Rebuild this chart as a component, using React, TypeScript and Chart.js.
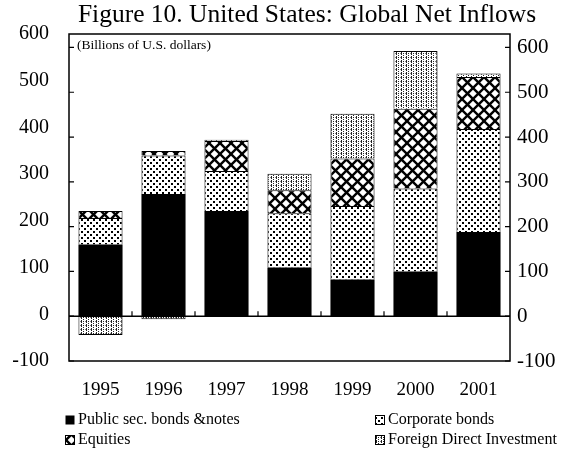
import React, { useEffect, useRef } from "react";
import { Chart, registerables } from "chart.js";

Chart.register(...registerables);

const years = ["1995", "1996", "1997", "1998", "1999", "2000", "2001"];
const publicSec = [160, 273, 235, 109, 82, 100, 188];
const corporate = [59, 86, 89, 121, 164, 185, 230];
const equities = [16, 10, 67, 51, 106, 178, 116];
const fdi = [-42, -7, 3, 37, 100, 129, 8];
const seriesLabels = [
  "Public sec. bonds &notes",
  "Corporate bonds",
  "Equities",
  "Foreign Direct Investment",
];
const titleText = "Figure 10. United States: Global Net Inflows";
const unitText = "(Billions of U.S. dollars)";
const axisMin = -100;
const leftAxisMax = 600;
const dataAxisMax = 630;

const SERIF = "'Liberation Serif', 'DejaVu Serif', serif";

function makePattern(kind: string): CanvasPattern | string {
  const c = document.createElement("canvas");
  const g = c.getContext("2d")!;
  if (kind === "dots") {
    c.width = 6;
    c.height = 6;
    g.fillStyle = "#fff";
    g.fillRect(0, 0, 6, 6);
    g.fillStyle = "#000";
    g.fillRect(0, 0, 2, 2);
    g.fillRect(3, 3, 2, 2);
  } else if (kind === "lattice") {
    c.width = 11;
    c.height = 11;
    g.fillStyle = "#fff";
    g.fillRect(0, 0, 11, 11);
    g.strokeStyle = "#000";
    g.lineWidth = 2.4;
    for (const off of [-11, 0, 11]) {
      g.beginPath();
      g.moveTo(off - 2, -2);
      g.lineTo(off + 13, 13);
      g.stroke();
      g.beginPath();
      g.moveTo(off + 13, -2);
      g.lineTo(off - 2, 13);
      g.stroke();
    }
  } else {
    c.width = 5;
    c.height = 4;
    g.fillStyle = "#fff";
    g.fillRect(0, 0, 5, 4);
    g.fillStyle = "#222";
    g.fillRect(1, 0, 1, 3);
    g.fillRect(3, 1, 1, 1);
    g.fillRect(3, 3, 1, 1);
    g.fillStyle = "#888";
    g.fillRect(0, 1, 1, 1);
  }
  return g.createPattern(c, "repeat")!;
}

const framePlugin = {
  id: "framePlugin",
  afterDatasetsDraw(chart: any) {
    const { ctx, chartArea: a, scales } = chart;
    const y = scales.y;
    const x = scales.x;
    ctx.save();
    ctx.strokeStyle = "#000";
    ctx.lineWidth = 1.5;
    ctx.strokeRect(a.left, a.top, a.right - a.left, a.bottom - a.top);
    const y0 = y.getPixelForValue(0);
    ctx.beginPath();
    ctx.moveTo(a.left, y0);
    ctx.lineTo(a.right, y0);
    ctx.stroke();
    ctx.lineWidth = 1.2;
    y.ticks.forEach((t: any) => {
      const py = y.getPixelForValue(t.value);
      ctx.beginPath();
      ctx.moveTo(a.left, py);
      ctx.lineTo(a.left + 5, py);
      ctx.moveTo(a.right, py);
      ctx.lineTo(a.right - 5, py);
      ctx.stroke();
    });
    for (let i = 1; i < years.length; i++) {
      const px = (x.getPixelForValue(i - 1) + x.getPixelForValue(i)) / 2;
      ctx.beginPath();
      ctx.moveTo(px, y0);
      ctx.lineTo(px, y0 - 5);
      ctx.stroke();
    }
    ctx.restore();
  },
  afterDraw(chart: any) {
    const { ctx, chartArea: a } = chart;
    ctx.save();
    ctx.fillStyle = "#000";
    ctx.textBaseline = "middle";
    ctx.font = `25.5px ${SERIF}`;
    ctx.textAlign = "center";
    ctx.fillText(titleText, 307, 15);
    ctx.font = `13.5px ${SERIF}`;
    ctx.textAlign = "left";
    ctx.fillText(unitText, a.left + 8, a.top + 11);

    ctx.font = `16px ${SERIF}`;
    const cols = [70, 380];
    const rows = [420, 440];
    chart.data.datasets.forEach((ds: any, i: number) => {
      const cx = cols[i % 2];
      const cy = rows[Math.floor(i / 2)];
      ctx.fillStyle = ds.backgroundColor;
      ctx.fillRect(cx - 4.5, cy - 4.5, 9, 9);
      if (i > 0) {
        ctx.strokeStyle = "#000";
        ctx.lineWidth = 1;
        ctx.strokeRect(cx - 4.5, cy - 4.5, 9, 9);
      }
      ctx.fillStyle = "#000";
      ctx.fillText(ds.label, cx + 8, cy);
    });
    ctx.restore();
  },
};

export default function App() {
  const ref = useRef<HTMLCanvasElement | null>(null);

  useEffect(() => {
    document.body.style.margin = "0";
    document.body.style.background = "#fff";
    const canvas = ref.current!;
    const patterns = [
      "#000",
      makePattern("dots"),
      makePattern("lattice"),
      makePattern("fine"),
    ];
    const values = [publicSec, corporate, equities, fdi];
    const chart = new Chart(canvas, {
      type: "bar",
      data: {
        labels: years,
        datasets: values.map((v, i) => ({
          label: seriesLabels[i],
          data: v,
          backgroundColor: patterns[i] as any,
          borderColor: "#000",
          borderWidth: i === 0 ? 0 : 1,
          yAxisID: "y",
          barPercentage: 0.7,
          categoryPercentage: 1.0,
        })),
      },
      options: {
        responsive: false,
        animation: false,
        layout: { padding: { top: 34, left: 0, right: 0, bottom: 0 } },
        plugins: {
          legend: { display: false },
          title: { display: false },
          tooltip: { enabled: false },
        },
        scales: {
          x: {
            stacked: true,
            grid: { display: false, drawTicks: false },
            border: { display: false },
            ticks: {
              color: "#000",
              font: { family: SERIF, size: 19 },
              padding: 18,
              maxRotation: 0,
            },
            afterFit(scale: any) {
              scale.height = 457 - 361;
            },
          },
          yl: {
            position: "left",
            min: axisMin,
            max: leftAxisMax,
            grid: { display: false, drawTicks: false },
            border: { display: false },
            ticks: {
              stepSize: 100,
              color: "#000",
              font: { family: SERIF, size: 20 },
              padding: 20,
            },
            afterFit(scale: any) {
              scale.width = 69;
            },
          },
          y: {
            position: "right",
            stacked: true,
            min: axisMin,
            max: dataAxisMax,
            grid: { display: false, drawTicks: false },
            border: { display: false },
            ticks: {
              stepSize: 100,
              includeBounds: false,
              color: "#000",
              font: { family: SERIF, size: 21 },
              padding: 7,
            },
            afterFit(scale: any) {
              scale.width = 576 - 510;
            },
          },
        },
      },
      plugins: [framePlugin],
    });
    return () => chart.destroy();
  }, []);

  return (
    <canvas
      ref={ref}
      width={576}
      height={457}
      style={{ display: "block", width: 576, height: 457 }}
    />
  );
}
